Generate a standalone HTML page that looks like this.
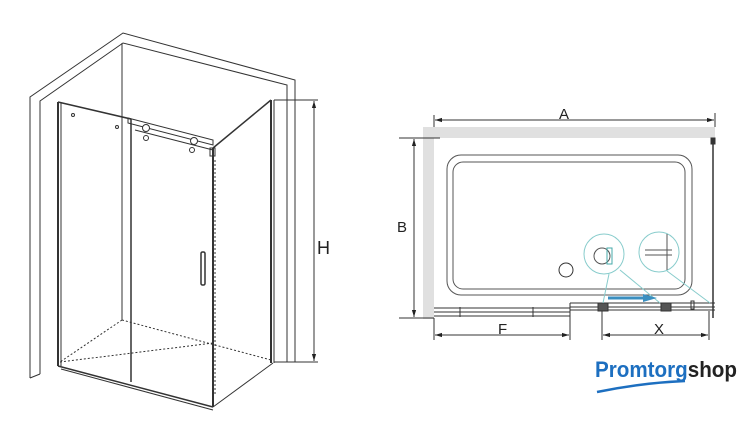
<!DOCTYPE html>
<html><head><meta charset="utf-8"><style>
html,body{margin:0;padding:0;background:#fff;width:749px;height:443px;overflow:hidden}
svg{display:block}
</style></head><body>
<svg width="749" height="443" viewBox="0 0 749 443" xmlns="http://www.w3.org/2000/svg" font-family="Liberation Sans, sans-serif">
<defs>
<marker id="ar" viewBox="0 0 10 10" refX="10" refY="5" markerWidth="7" markerHeight="7" orient="auto-start-reverse"><path d="M0,2 L10,5 L0,8 z" fill="#222"/></marker>
</defs>
<g fill="none" stroke="#333" stroke-width="1">
<polyline points="30,378 30,97 123,33 295,80 295,362"/>
<polyline points="40,374 40,101 123,43 287,85 287,362"/>
<line x1="30" y1="378" x2="40" y2="374"/>
<line x1="287" y1="362" x2="295" y2="362"/>
<line x1="122" y1="43" x2="122" y2="320"/>
<line x1="58" y1="102" x2="58" y2="366" stroke-width="2"/>
<line x1="61" y1="103" x2="61" y2="366"/>
<line x1="58" y1="102" x2="131" y2="119" stroke-width="1.5"/>
<line x1="131" y1="119" x2="131" y2="382" stroke-width="1.5"/>
<line x1="122" y1="120" x2="122" y2="320" stroke-dasharray="3,2"/>
<line x1="213" y1="148" x2="213" y2="407" stroke-width="2"/>
<line x1="215" y1="160" x2="215" y2="395" stroke-dasharray="2,2"/>
<polyline points="128,118 128,123 213,145 213,140 128,118"/>
<line x1="135" y1="130" x2="213" y2="150"/>
<circle cx="146" cy="128" r="3.5" fill="#fff"/>
<circle cx="194" cy="141" r="3.5" fill="#fff"/>
<circle cx="146" cy="138" r="2.5"/>
<circle cx="192" cy="150" r="2.5"/>
<rect x="210" y="148" width="5" height="8"/>
<circle cx="73" cy="115" r="1.5"/><circle cx="117" cy="127" r="1.5"/>
<rect x="201" y="252" width="4" height="33" rx="1.5" stroke-width="1.5"/>
<line x1="213" y1="148" x2="271" y2="100" stroke-width="1.5"/>
<line x1="271" y1="100" x2="271" y2="363" stroke-width="2"/>
<line x1="274" y1="100" x2="274" y2="363"/>
<line x1="213" y1="407" x2="273" y2="363"/>
<line x1="58" y1="366" x2="213" y2="407" stroke-width="1.5"/>
<line x1="61" y1="369" x2="213" y2="410"/>
<line x1="122" y1="320" x2="60" y2="362" stroke-dasharray="2,2"/>
<line x1="122" y1="320" x2="271" y2="360" stroke-dasharray="2,2"/>
<line x1="60" y1="362" x2="213" y2="343" stroke-dasharray="2,2"/>
<line x1="274" y1="100" x2="318" y2="100"/>
<line x1="274" y1="362" x2="318" y2="362"/>
<line x1="314" y1="101" x2="314" y2="361" marker-start="url(#ar)" marker-end="url(#ar)"/>
</g>
<text x="317" y="254" font-size="18" fill="#222">H</text>

<rect x="423" y="127" width="292" height="11" fill="#e0e0e0"/>
<rect x="423" y="127" width="11" height="192" fill="#e0e0e0"/>
<g fill="none" stroke="#333" stroke-width="1">
<line x1="434" y1="115" x2="434" y2="127"/>
<line x1="715" y1="113" x2="715" y2="127"/>
<line x1="435" y1="120" x2="714" y2="120" marker-start="url(#ar)" marker-end="url(#ar)"/>
<line x1="399" y1="138" x2="440" y2="138"/>
<line x1="399" y1="318" x2="434" y2="318"/>
<line x1="414" y1="139" x2="414" y2="317" marker-start="url(#ar)" marker-end="url(#ar)"/>
<rect x="447" y="155" width="245" height="140" rx="14" stroke="#555"/>
<rect x="453" y="162" width="232" height="127" rx="10" stroke="#555"/>
<circle cx="566" cy="270" r="7"/>
<line x1="713" y1="138" x2="713" y2="318" stroke-width="1.5"/>
<rect x="711" y="138" width="4" height="6" fill="#333"/>
<line x1="434" y1="308" x2="570" y2="308"/>
<line x1="434" y1="312" x2="570" y2="312"/>
<line x1="434" y1="316" x2="570" y2="316"/>
<line x1="570" y1="303" x2="570" y2="318"/>
<line x1="460" y1="307" x2="460" y2="317"/><line x1="533" y1="307" x2="533" y2="317"/>
<line x1="570" y1="303" x2="715" y2="303"/>
<line x1="570" y1="307" x2="715" y2="307"/>
<line x1="570" y1="310" x2="715" y2="310"/>
<rect x="598" y="303" width="10" height="8" fill="#555"/>
<rect x="661" y="303" width="10" height="8" fill="#555"/>
<rect x="691" y="301" width="3" height="8"/>
<g stroke="#8cc">
<circle cx="604" cy="254" r="20"/>
<circle cx="659" cy="252" r="20"/>
<line x1="609" y1="274" x2="603" y2="303"/>
<line x1="620" y1="270" x2="660" y2="303"/>
<line x1="667" y1="271" x2="710" y2="303"/>
</g>
<circle cx="602" cy="256" r="8" stroke="#555"/>
<rect x="607" y="248" width="5" height="16" stroke="#4aa"/>
<line x1="667" y1="234" x2="667" y2="270" stroke="#555"/>
<line x1="645" y1="250" x2="672" y2="250" stroke="#555"/>
<line x1="645" y1="255" x2="672" y2="255" stroke="#555"/>
<line x1="434" y1="318" x2="434" y2="340"/>
<line x1="570" y1="318" x2="570" y2="340"/>
<line x1="435" y1="335" x2="569" y2="335" marker-start="url(#ar)" marker-end="url(#ar)"/>
<line x1="602" y1="311" x2="602" y2="340"/>
<line x1="709" y1="311" x2="709" y2="340"/>
<line x1="603" y1="335" x2="708" y2="335" marker-start="url(#ar)" marker-end="url(#ar)"/>
</g>
<line x1="608" y1="298" x2="645" y2="298" stroke="#3a8fc0" stroke-width="3"/>
<path d="M643,294 L657,298 L643,302 z" fill="#3a8fc0"/>
<text x="559" y="119" font-size="15" fill="#222">A</text>
<text x="397" y="232" font-size="15" fill="#222">B</text>
<text x="498" y="334" font-size="15" fill="#222">F</text>
<text x="654" y="334" font-size="15" fill="#222">X</text>
<text x="595" y="377" font-size="22" font-weight="bold" fill="#1d6fc0" textLength="142" lengthAdjust="spacingAndGlyphs">Promtorg<tspan fill="#222">shop</tspan></text>
<path d="M597,392 Q640,383 685,381" stroke="#1d6fc0" stroke-width="2.5" fill="none"/>
</svg>
</body></html>
